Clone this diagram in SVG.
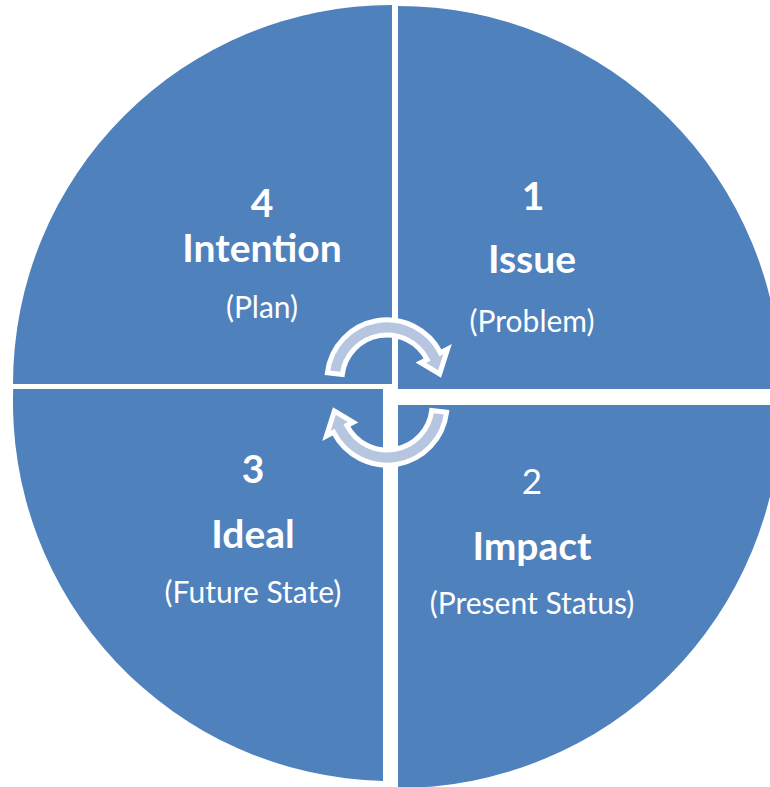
<svg xmlns="http://www.w3.org/2000/svg" width="770" height="787" viewBox="0 0 770 787">
<style>
.q{fill:#4F81BD;}
.arr{fill:#B7C6E0;stroke:#FFFFFF;stroke-width:5;stroke-linejoin:miter;}
.t{font-family:Lato,"Open Sans","Liberation Sans",sans-serif;fill:#FFFFFF;text-anchor:middle;}
.b{font-weight:bold;font-size:39px;}
.r{font-size:30px;}
</style>
<rect width="770" height="787" fill="#FFFFFF"/>
<g id="q4">
<path class="q" d="M392,384 L13,384 A379,379 0 0 1 392,5 Z"/>
<text class="t b" x="262" y="217">4</text>
<text class="t b" x="262" y="262">Intention</text>
<text class="t r" x="262" y="318">(Plan)</text>
</g>
<g id="q1">
<path class="q" d="M398,389 L398,6 A383,383 0 0 1 781,389 Z"/>
<text class="t b" x="533" y="210">1</text>
<text class="t b" x="532" y="273">Issue</text>
<text class="t r" x="532" y="332">(Problem)</text>
</g>
<g id="q2">
<path class="q" d="M398,405 L781,405 A383,383 0 0 1 398,788 Z"/>
<text class="t r" x="532" y="494" style="font-size:35px">2</text>
<text class="t b" x="532" y="560">Impact</text>
<text class="t r" x="532" y="614">(Present Status)</text>
</g>
<g id="q3">
<path class="q" d="M383,389 L13.2,389 A379,379 0 0 0 383,781 Z"/>
<text class="t b" x="253" y="483">3</text>
<text class="t b" x="253" y="548">Ideal</text>
<text class="t r" x="253" y="603">(Future State)</text>
</g>
<g id="connectors">
<path class="arr" d="M327.4,372.7 A60,60 0 0 1 440.5,352.8 L447.6,349.1 L439.6,374.0 L420.8,362.7 L427.1,359.6 A45,45 0 0 0 342.3,374.5 Z"/>
<path class="arr" d="M446.6,412.3 A60,60 0 0 1 333.5,432.2 L326.4,435.9 L334.4,411.0 L353.2,422.3 L346.9,425.4 A45,45 0 0 0 431.7,410.5 Z"/>
</g>
</svg>
